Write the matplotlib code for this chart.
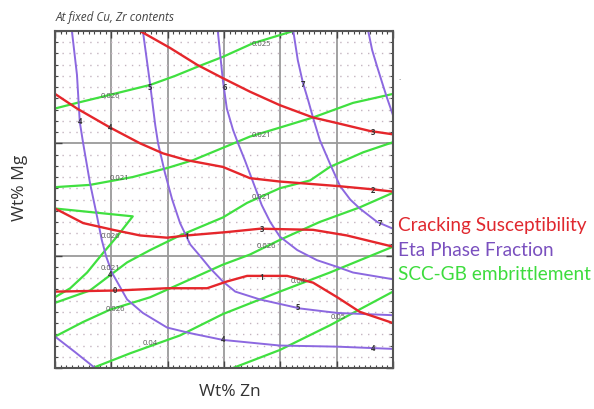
import numpy as np
import matplotlib
matplotlib.use('Agg')
from matplotlib import pyplot as plt
from matplotlib.ticker import MultipleLocator

plt.rcParams['font.family'] = ['Open Sans', 'DejaVu Sans']

# cracking susceptibility contours (red)
r1_x = [1.51, 2.04, 2.52, 2.98, 3.46, 3.99, 4.58, 5.01, 5.59, 6.00]
r1_y = [3.00, 2.85, 2.70, 2.58, 2.46, 2.34, 2.23, 2.18, 2.11, 2.08]
r2_x = [0, 0.39, 0.98, 1.51, 1.92, 2.34, 2.98, 3.46, 3.99, 5.01, 5.65, 6.00]
r2_y = [2.44, 2.31, 2.14, 2.00, 1.91, 1.85, 1.79, 1.69, 1.66, 1.62, 1.59, 1.57]
r3_x = [0, 0.50, 1.03, 1.51, 1.99, 2.34, 3.05, 3.64, 4.58, 5.18, 5.59, 6.00]
r3_y = [1.42, 1.29, 1.23, 1.18, 1.16, 1.18, 1.21, 1.24, 1.23, 1.18, 1.13, 1.08]
r4_x = [0, 1.10, 1.99, 2.70, 3.05, 3.41, 4.12, 4.58, 5.01, 5.41, 6.00]
r4_y = [0.68, 0.69, 0.71, 0.71, 0.77, 0.82, 0.82, 0.76, 0.63, 0.50, 0.40]

# eta phase fraction contours (purple)
p1_x = [0.30, 0.39, 0.44, 0.50, 0.62, 0.75, 0.83, 0.91, 1.01, 1.28, 1.56, 1.99, 2.40, 2.98, 3.99, 5.01, 6.00]
p1_y = [3.00, 2.61, 2.19, 2.00, 1.65, 1.34, 1.14, 0.99, 0.85, 0.61, 0.49, 0.36, 0.31, 0.25, 0.20, 0.19, 0.17]
p2_x = [1.56, 1.69, 1.78, 1.83, 1.95, 2.08, 2.22, 2.40, 2.57, 2.75, 2.98, 3.20, 3.64, 4.35, 5.01, 6.00]
p2_y = [3.00, 2.52, 2.16, 2.00, 1.74, 1.50, 1.29, 1.10, 1.00, 0.89, 0.77, 0.68, 0.61, 0.53, 0.49, 0.47]
p3_x = [2.89, 2.98, 3.05, 3.16, 3.25, 3.37, 3.52, 3.67, 3.82, 3.99, 4.30, 4.65, 5.01, 5.29, 6.00]
p3_y = [3.00, 2.56, 2.31, 2.12, 2.00, 1.85, 1.65, 1.45, 1.30, 1.17, 1.05, 0.96, 0.90, 0.85, 0.79]
p4_x = [4.23, 4.31, 4.40, 4.49, 4.58, 4.70, 4.88, 5.06, 5.24, 5.41, 5.72, 6.00]
p4_y = [3.00, 2.74, 2.54, 2.39, 2.23, 2.03, 1.82, 1.62, 1.50, 1.42, 1.30, 1.24]
p5_x = [5.56, 5.63, 5.72, 5.82, 5.89, 6.00]
p5_y = [3.00, 2.83, 2.68, 2.52, 2.41, 2.25]
p6_x = [0, 0.36, 0.71]
p6_y = [0.28, 0.14, 0.0]

# SCC-GB embrittlement contours (green)
g1_x = [0, 0.39, 0.80, 1.69, 2.13, 2.57, 2.98, 3.51, 4.23]
g1_y = [2.31, 2.36, 2.41, 2.52, 2.60, 2.69, 2.77, 2.89, 3.00]
g2_x = [0, 0.62, 1.38, 1.99, 2.45, 2.98, 3.46, 3.99, 4.58, 5.29, 6.00]
g2_y = [1.61, 1.63, 1.70, 1.78, 1.85, 1.96, 2.06, 2.14, 2.23, 2.36, 2.44]
gz_x = [0, 1.38, 1.10, 0.83, 0.57, 0.27, 0]
gz_y = [1.42, 1.35, 1.17, 1.01, 0.85, 0.71, 0.63]
g3_x = [0, 0.62, 1.28, 1.69, 2.22, 2.98, 3.41, 3.99, 4.53, 4.88, 5.47, 6.00]
g3_y = [0.58, 0.69, 0.94, 1.05, 1.18, 1.34, 1.47, 1.60, 1.67, 1.79, 1.92, 2.01]
g4_x = [0, 0.50, 0.98, 1.69, 2.27, 2.98, 3.46, 3.99, 4.70, 5.41, 6.00]
g4_y = [0.28, 0.41, 0.52, 0.63, 0.76, 0.92, 1.01, 1.14, 1.30, 1.43, 1.56]
g5_x = [0.67, 1.33, 2.22, 2.98, 3.99, 4.88, 6.00]
g5_y = [0.00, 0.13, 0.29, 0.48, 0.68, 0.85, 1.08]
g6_x = [3.16, 3.99, 4.88, 6.00]
g6_y = [0.00, 0.16, 0.38, 0.68]

# contour labels
g_lab = ['0.026', '0.025', '0.021', '0.021', '0.021', '0.026', '0.026', '0.021', '0.026', '0.04', '0.04', '0.05']
g_lab_x = [0.98, 3.67, 3.67, 1.15, 3.67, 0.98, 3.76, 0.98, 1.07, 1.69, 4.31, 5.02]
g_lab_y = [2.42, 2.88, 2.07, 1.69, 1.52, 1.17, 1.08, 0.89, 0.52, 0.22, 0.77, 0.45]
n_lab = ['4', '5', '6', '7', '3', '4', '2', '1', '3', '4', '0', '1', '5', '4', '7', '4']
n_lab_x = [0.44, 1.69, 3.02, 4.40, 5.65, 0.98, 5.65, 2.34, 3.67, 0.98, 1.07, 3.67, 4.31, 2.98, 5.77, 5.65]
n_lab_y = [2.19, 2.50, 2.50, 2.52, 2.10, 2.14, 1.58, 1.17, 1.23, 0.83, 0.69, 0.81, 0.54, 0.25, 1.29, 0.17]

red = '#e5262b'
purple = '#8c68e0'
green = '#40e040'

fig = plt.figure(figsize=(5.94, 4.09), dpi=100)
ax = fig.add_axes([55/594, 41/409, 338/594, 337/409])

ax.set_xlim(0, 6)
ax.set_ylim(0, 3)
ax.xaxis.set_major_locator(MultipleLocator(1))
ax.xaxis.set_minor_locator(MultipleLocator(0.1))
ax.yaxis.set_major_locator(MultipleLocator(1))
ax.yaxis.set_minor_locator(MultipleLocator(0.1))
ax.tick_params(which='both', direction='in', top=True, right=True, labelbottom=False, labelleft=False, color='#444444')
ax.tick_params(which='major', length=5, width=1)
ax.tick_params(which='minor', length=2.5, width=0.8)
ax.grid(which='major', color='#9a9a9a', lw=1.3)
ax.grid(which='minor', axis='y', color='#c4b4c0', lw=1.0, ls=(0, (1, 4)))
for s in ax.spines.values():
    s.set_color('#555555')
    s.set_linewidth(1.5)

for xs, ys in [(g1_x, g1_y), (g2_x, g2_y), (gz_x, gz_y), (g3_x, g3_y), (g4_x, g4_y), (g5_x, g5_y), (g6_x, g6_y)]:
    ax.plot(xs, ys, color=green, lw=1.6)
for xs, ys in [(p1_x, p1_y), (p2_x, p2_y), (p3_x, p3_y), (p4_x, p4_y), (p5_x, p5_y), (p6_x, p6_y)]:
    ax.plot(xs, ys, color=purple, lw=1.4)
for xs, ys in [(r1_x, r1_y), (r2_x, r2_y), (r3_x, r3_y), (r4_x, r4_y)]:
    ax.plot(xs, ys, color=red, lw=1.7)

for t, x, y in zip(g_lab, g_lab_x, g_lab_y):
    ax.text(x, y, t, fontsize=5.5, color='#555555', ha='center', va='center')
for t, x, y in zip(n_lab, n_lab_x, n_lab_y):
    ax.text(x, y, t, fontsize=5.5, color='#333333', ha='center', va='center', fontweight='bold')

fig.text(56/594, 1 - 17/409, 'At fixed Cu, Zr contents', fontsize=8.5, style='italic', color='#444444', va='center')
fig.text(20/594, 1 - 188/409, 'Wt% Mg', rotation=90, fontsize=12.5, color='#333333', ha='center', va='center')
fig.text(230/594, 1 - 392/409, 'Wt% Zn', fontsize=12.5, color='#333333', ha='center', va='center')
fig.text(398/594, 1 - 226/409, 'Cracking Susceptibility', fontsize=13.7, color='#e0282f', va='center', family=['Lato', 'DejaVu Sans'])
fig.text(398/594, 1 - 250/409, 'Eta Phase Fraction', fontsize=13.7, color='#7a50bf', va='center', family=['Lato', 'DejaVu Sans'])
fig.text(398/594, 1 - 275/409, 'SCC-GB embrittlement', fontsize=13.7, color='#3ddc3d', va='center', family=['Lato', 'DejaVu Sans'])
fig.text(400/594, 1 - 78/409, '.', fontsize=6, color='#555555', ha='center', va='center')

fig.savefig('out.png', dpi=100)
